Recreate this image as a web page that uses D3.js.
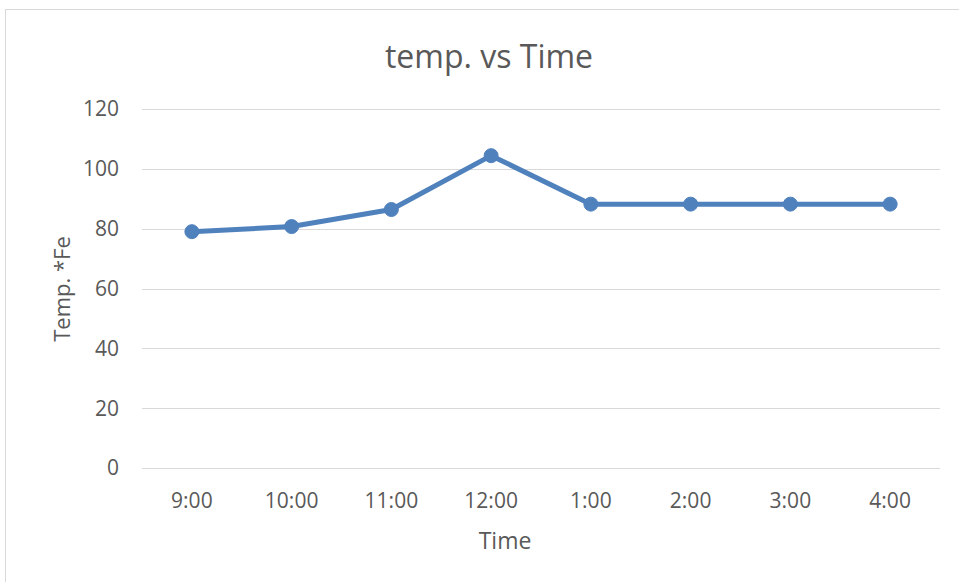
<!DOCTYPE html>
<html>
<head>
<meta charset="utf-8">
<script src="https://cdn.jsdelivr.net/npm/d3@7"></script>
<style>
  body { margin: 0; background: #fff; }
  text { font-family: "Open Sans", Lato, sans-serif; fill: #595959; }
</style>
</head>
<body>
<svg id="chart" width="959" height="582"></svg>
<script>
// data
const times = ["9:00", "10:00", "11:00", "12:00", "1:00", "2:00", "3:00", "4:00"];
const temps = [79, 80.7, 86.4, 104.4, 88.2, 88.2, 88.2, 88.2];
const yTicks = [0, 20, 40, 60, 80, 100, 120];

const svg = d3.select("#chart");

// outer frame of the chart
svg.append("rect")
    .attr("x", 5.5).attr("y", 9.5)
    .attr("width", 960).attr("height", 580)
    .attr("fill", "none")
    .attr("stroke", "#d9d9d9")
    .attr("stroke-width", 1);

const plotL = 142, plotR = 940, plotT = 109, plotB = 468;

const x = d3.scaleBand().domain(times).range([plotL, plotR]);
const y = d3.scaleLinear().domain([0, 120]).range([plotB, plotT]);

// grid lines
svg.append("g")
    .selectAll("line")
    .data(yTicks)
    .join("line")
    .attr("x1", plotL).attr("x2", plotR)
    .attr("y1", d => Math.round(y(d)) + 0.5)
    .attr("y2", d => Math.round(y(d)) + 0.5)
    .attr("stroke", "#d9d9d9")
    .attr("stroke-width", 1);

// y tick labels
svg.append("g")
    .selectAll("text")
    .data(yTicks)
    .join("text")
    .attr("x", 119)
    .attr("y", d => y(d))
    .attr("dy", "0.35em")
    .attr("text-anchor", "end")
    .attr("font-size", 21)
    .text(d => d);

// x tick labels
svg.append("g")
    .selectAll("text")
    .data(times)
    .join("text")
    .attr("x", d => x(d) + x.bandwidth() / 2)
    .attr("y", 508)
    .attr("text-anchor", "middle")
    .attr("font-size", 21)
    .text(d => d);

// titles
svg.append("text")
    .attr("x", 489).attr("y", 68)
    .attr("text-anchor", "middle")
    .attr("font-size", 32)
    .text("temp. vs Time");

svg.append("text")
    .attr("x", 505).attr("y", 549)
    .attr("text-anchor", "middle")
    .attr("font-size", 23)
    .text("Time");

svg.append("text")
    .attr("transform", "translate(70,289) rotate(-90)")
    .attr("text-anchor", "middle")
    .attr("font-size", 22)
    .text("Temp. *Fe");

// line + markers
const pts = times.map((t, i) => [x(t) + x.bandwidth() / 2, y(temps[i])]);

svg.append("path")
    .attr("d", d3.line()(pts))
    .attr("fill", "none")
    .attr("stroke", "#4f81bd")
    .attr("stroke-width", 5)
    .attr("stroke-linejoin", "round");

svg.append("g")
    .selectAll("circle")
    .data(pts)
    .join("circle")
    .attr("cx", d => d[0])
    .attr("cy", d => d[1])
    .attr("r", 7)
    .attr("fill", "#4f81bd")
    .attr("stroke", "#4f81bd")
    .attr("stroke-width", 1);
</script>
</body>
</html>
